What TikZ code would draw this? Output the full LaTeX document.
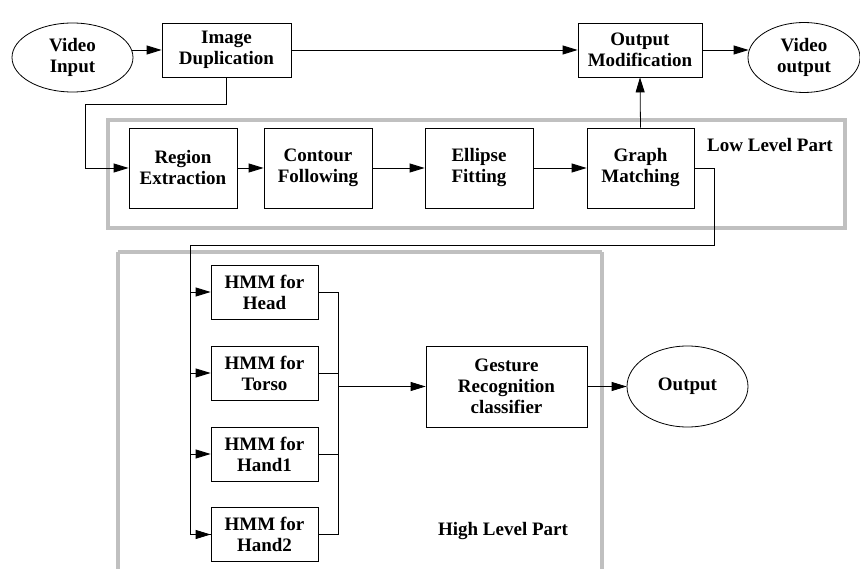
\documentclass[tikz,border=0pt]{standalone}
\usepackage{fontspec}
\setmainfont{Liberation Serif}
\usetikzlibrary{shapes.geometric,arrows.meta}
\definecolor{partgray}{HTML}{C0C0C0}
\begin{document}
\begin{tikzpicture}[x=1pt,y=-1pt,
  every node/.style={font=\bfseries\fontsize{19}{21}\selectfont, align=center, inner sep=0pt},
  blk/.style={draw, line width=0.8pt, minimum height=54pt},
  oval/.style={draw, ellipse, line width=0.8pt},
  wire/.style={line width=0.8pt},
  arr/.style={wire, -{Triangle[length=15pt,width=9pt]}},
  part/.style={draw=partgray, line width=4pt}]
\clip (0,0) rectangle (860,569);
\fill[white] (0,0) rectangle (860,569);

% part frames
\draw[part] (108,120) rectangle (845,228);
\draw[part] (118,252) -- (602,252) (118,252) -- (118,600) (602,252) -- (602,600);
\node at (770,145) {Low Level Part};
\node at (503,531) {High Level Part};

% top row
\node[oval, minimum width=121pt, minimum height=69pt] (vin) at (72.5,57.5) {Video\\Input};
\node[blk, minimum width=129pt] (dup) at (226.5,50) {Image\\Duplication};
\node[blk, minimum width=124pt] (omod) at (640,50) {Output\\Modification};
\node[oval, minimum width=112pt, minimum height=70pt] (vout) at (804,57.5) {Video\\output};

% low level chain
\node[blk, minimum width=108pt, minimum height=80pt] (reg) at (183,168) {Region\\Extraction};
\node[blk, minimum width=108pt, minimum height=80pt] (con) at (318,168) {Contour\\Following};
\node[blk, minimum width=108pt, minimum height=80pt] (ell) at (479,168) {Ellipse\\Fitting};
\node[blk, minimum width=107pt, minimum height=80pt] (gm) at (640.5,168) {Graph\\Matching};

% high level part
\node[blk, minimum width=107pt] (h1) at (264.5,292) {HMM for\\Head};
\node[blk, minimum width=107pt] (h2) at (264.5,373) {HMM for\\Torso};
\node[blk, minimum width=107pt] (h3) at (264.5,454) {HMM for\\Hand1};
\node[blk, minimum width=107pt] (h4) at (264.5,534.5) {HMM for\\Hand2};
\node[blk, minimum width=161pt, minimum height=81pt] (ges) at (506.5,386.5) {Gesture\\Recognition\\classifier};
\node[oval, minimum width=121pt, minimum height=81pt] (out) at (687.5,386.5) {Output};

% routing points
\coordinate (dupturn) at (85,104);
\coordinate (gmturn) at (714,245);
\coordinate (split) at (190,245);
\coordinate (merge) at (338,386.5);

% connectors
\draw[arr] ([xshift=-1pt]vin.east |- dup.west) -- (dup.west);
\draw[arr] (dup.east) -- (omod.west);
\draw[arr] (omod.east) -- ([xshift=1pt]vout.west |- omod.east);
\draw[arr] (dup.south) |- (dupturn) |- (reg.west);
\draw[arr] (reg) -- (con);
\draw[arr] (con) -- (ell);
\draw[arr] (ell) -- (gm);
\draw[arr] (gm.north) -- (omod.south);

\draw[wire] (gm.east) -| (gmturn) -- (split) |- (h4.west);
\draw[arr] (split |- h1.west) -- (h1.west);
\draw[arr] (split |- h2.west) -- (h2.west);
\draw[arr] (split |- h3.west) -- (h3.west);
\draw[arr] (split |- h4.west) -- (h4.west);

\draw[wire] (h1.east) -| (merge |- h4.east) -- (h4.east);
\draw[wire] (h2.east) -- (merge |- h2.east);
\draw[wire] (h3.east) -- (merge |- h3.east);
\draw[arr] (merge) -- (ges.west);
\draw[arr] (ges) -- (out);
\end{tikzpicture}
\end{document}
